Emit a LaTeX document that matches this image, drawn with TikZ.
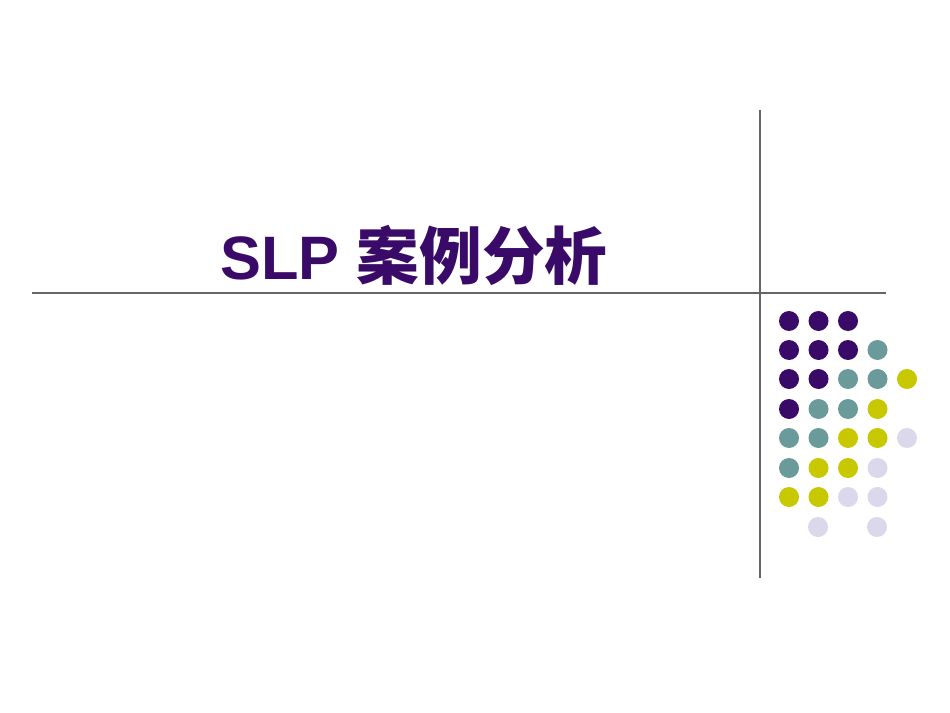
\documentclass[tikz,border=0pt]{standalone}
\usepackage{fontspec}
\setmainfont{Liberation Sans}
\newfontfamily\cjk{Noto Sans CJK SC}
\definecolor{pp}{HTML}{3A0A68}
\definecolor{tl}{HTML}{6A9A9A}
\definecolor{yl}{HTML}{C8C800}
\definecolor{lv}{HTML}{DCD8EC}
\begin{document}
\begin{tikzpicture}[x=0.75pt,y=-0.75pt,dot/.style={circle,inner sep=0pt,minimum size=15pt}]
\useasboundingbox (0,0) rectangle (950,713);
\fill[white] (0,0) rectangle (950,713);
\coordinate (vt) at (760,110); \coordinate (vb) at (760,578);
\coordinate (hl) at (32,293); \coordinate (hr) at (886,293);
\draw[gray!80!black,line width=0.9pt] (vt) -- (vb);
\draw[gray!80!black,line width=0.9pt] (hl) -- (hr);
\node[text=pp,font=\fontsize{46}{50}\selectfont\bfseries] (title) at (414,255) {SLP {\cjk\fontsize{47}{50}\selectfont 案例分析}};
\foreach \r/\cols in {321/{pp,pp,pp},350/{pp,pp,pp,tl},379/{pp,pp,tl,tl,yl},409/{pp,tl,tl,yl},438/{tl,tl,yl,yl,lv},468/{tl,yl,yl,lv},497/{yl,yl,lv,lv}}{
  \foreach \c [count=\i] in \cols {
    \node[dot,fill=\c] (d\r-\i) at ({789+29.5*(\i-1)},\r) {};
  }
}
\node[dot,fill=lv] (d527-2) at (818,527) {};
\node[dot,fill=lv] (d527-4) at (877,527) {};
\end{tikzpicture}
\end{document}
